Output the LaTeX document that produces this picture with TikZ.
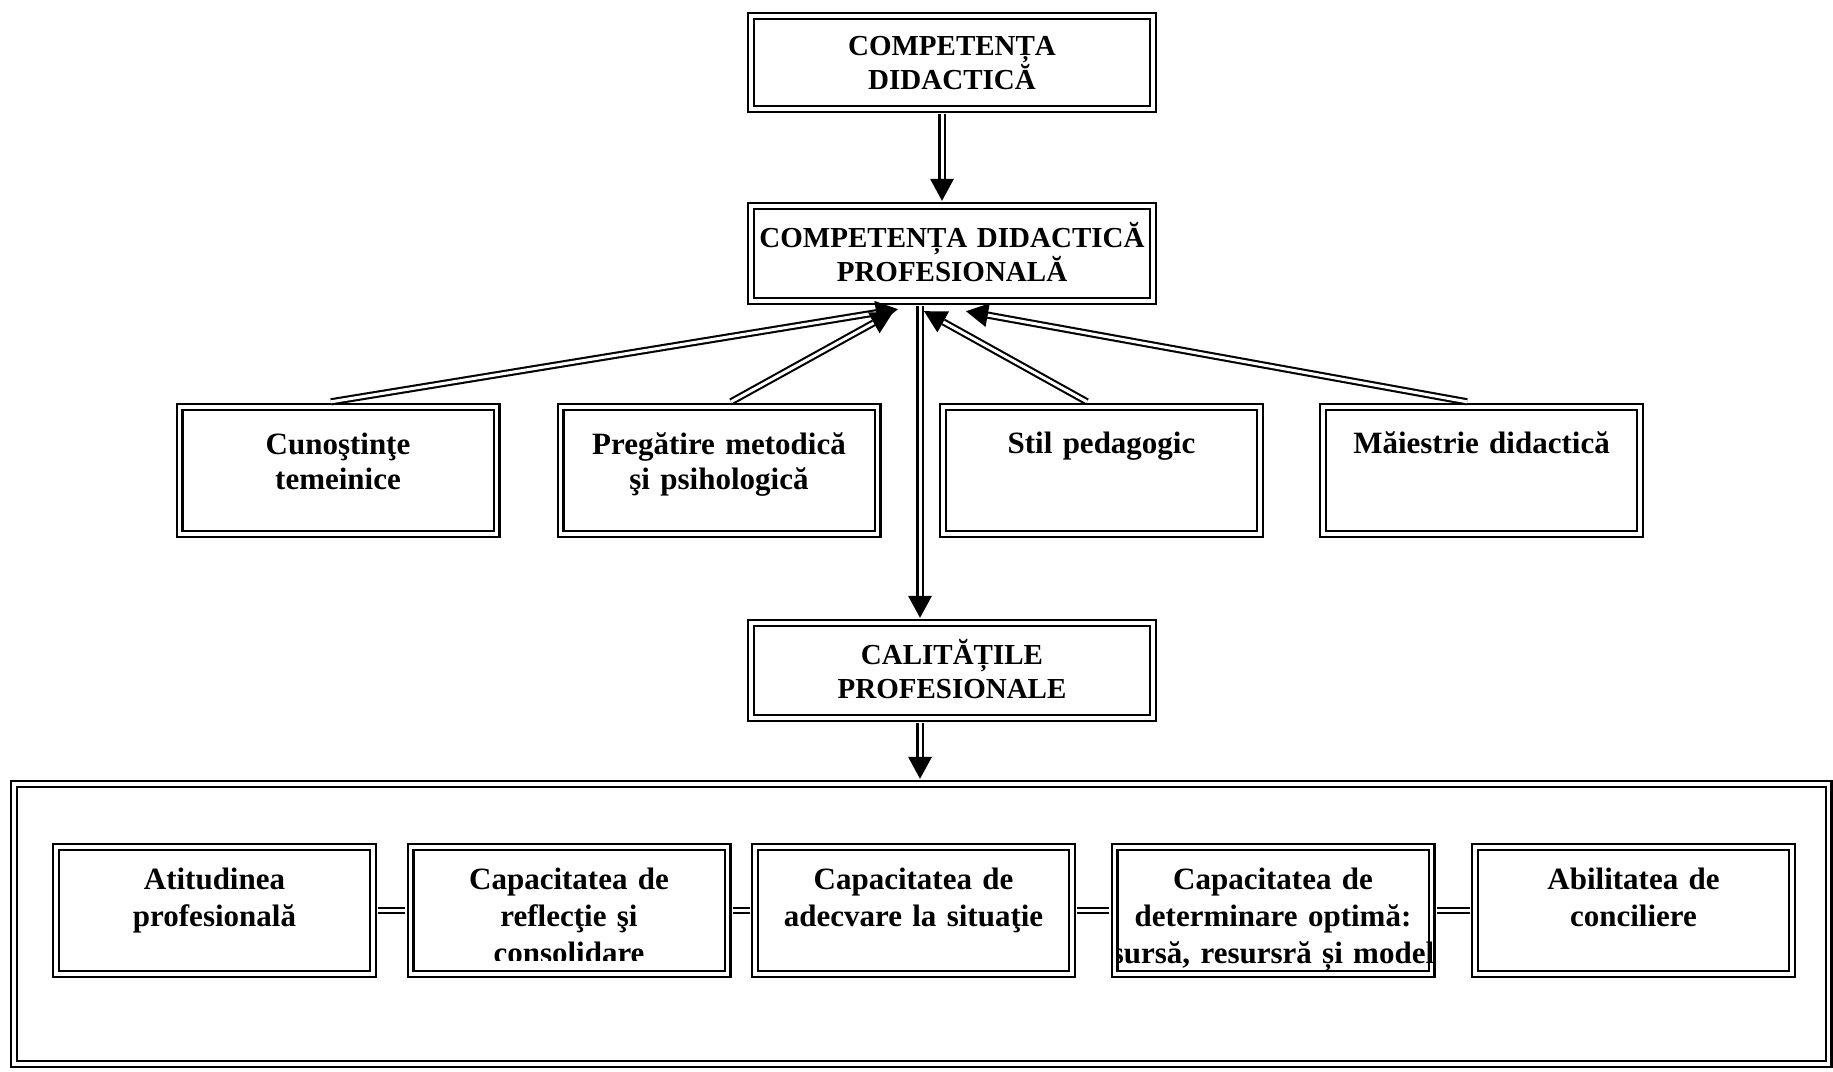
\documentclass[tikz,border=0pt]{standalone}
\usepackage{fontspec}
\setmainfont{Liberation Serif}
\usetikzlibrary{calc}
\tikzset{
  bord/.style={draw=black, double=white, line width=2.4pt, double distance=3.2pt, rectangle, inner sep=0pt},
  hbox/.style={bord, minimum width=402pt},
  rbox/.style={bord, minimum width=317pt, minimum height=127pt},
  dblc/.style={draw=black, double=white, line width=2.1pt, double distance=3pt},
  htxt/.style={font=\bfseries\fontsize{29}{34.5}\selectfont, text width=400pt, align=center, inner sep=0pt, anchor=base},
  rtxt/.style={font=\bfseries\fontsize{31}{35}\selectfont, text width=330pt, align=center, inner sep=0pt, anchor=base},
  btxt/.style={font=\bfseries\fontsize{31}{37}\selectfont, text width=340pt, align=center, inner sep=0pt, anchor=base},
}
\newcommand\dblarrow[2]{%
  \path ($(#2)!22pt!(#1)$) coordinate (ab);
  \draw[dblc] (#1) -- (ab);
  \fill[black] (#2) -- ($(ab)!12pt!90:(#2)$) -- ($(ab)!12pt!-90:(#2)$) -- cycle;
}
\begin{document}
\begin{tikzpicture}[x=1pt, y=-1pt]
\useasboundingbox (0,0) rectangle (1833,1071);
\fill[white] (0,0) rectangle (1833,1071);

% container
\node[bord, minimum width=1814.5pt, minimum height=280pt] (cont) at (921.25,924) {};

% header boxes
\node[hbox, minimum height=93pt] (c1) at (952,62.5) {};
\node[htxt] (c1t) at (952,55) {COMPETENȚA\\DIDACTICĂ};
\node[hbox, minimum height=95pt] (b2) at (952,253.5) {};
\node[htxt] (b2t) at (952,247) {COMPETENȚA DIDACTICĂ\\PROFESIONALĂ};
\node[hbox, minimum height=95pt] (cal) at (952,670.5) {};
\node[htxt] (calt) at (952,664) {CALITĂȚILE\\PROFESIONALE};

% second row
\node[rbox] (r1) at (338,470.5) {};
\node[rtxt] (r1t) at (338,454) {Cunoştinţe\\temeinice};
\node[rbox] (r2) at (719,470.5) {};
\node[rtxt] (r2t) at (719,454) {Pregătire metodică\\şi psihologică};
\node[rbox] (r3) at (1101.5,470.5) {};
\node[rtxt] (r3t) at (1101.5,453) {Stil pedagogic};
\node[rbox] (r4) at (1481.5,470.5) {};
\node[rtxt] (r4t) at (1481.5,453) {Măiestrie didactică};

% bottom row
\node[rbox] (a1) at (214.5,910.5) {};
\node[btxt] (a1t) at (214.5,889) {Atitudinea\\profesională};
\node[rbox] (a2) at (569,910.5) {};
\begin{scope}
  \clip ($(a2.north west)+(4,4)$) rectangle ($(a2.south east)+(-4,-15)$);
  \node[btxt] (a2t) at (569,889) {Capacitatea de\\reflecţie şi\\consolidare};
\end{scope}
\node[rbox] (a3) at (913.5,910.5) {};
\node[btxt] (a3t) at (913.5,889) {Capacitatea de\\adecvare la situaţie};
\node[rbox] (a4) at (1273,910.5) {};
\begin{scope}
  \clip ($(a4.north west)+(4,4)$) rectangle ($(a4.south east)+(0,-4)$);
  \node[btxt] (a4t) at (1273,889) {Capacitatea de\\determinare optimă:\\sursă, resursră și model};
\end{scope}
\node[rbox] (a5) at (1633.5,910.5) {};
\node[btxt] (a5t) at (1633.5,889) {Abilitatea de\\conciliere};

% bottom connectors
\draw[dblc, shorten <=4pt, shorten >=4pt] (a1.east) -- (a2.west);
\draw[dblc, shorten <=4pt, shorten >=4pt] (a2.east) -- (a3.west);
\draw[dblc, shorten <=4pt, shorten >=4pt] (a3.east) -- (a4.west);
\draw[dblc, shorten <=4pt, shorten >=4pt] (a4.east) -- (a5.west);

% vertical arrows
\coordinate (s0) at ($(c1.south)+(-10,4)$);
\coordinate (e0) at ($(b2.north)+(-10,-4)$);
\dblarrow{s0}{e0}
\coordinate (s1) at ($(b2.south)+(-32,4)$);
\coordinate (e1) at ($(cal.north)+(-32,-4)$);
\dblarrow{s1}{e1}
\coordinate (s2) at ($(cal.south)+(-32,4)$);
\coordinate (e2) at ($(cont.north -| s2)+(0,-4)$);
\dblarrow{s2}{e2}

% slanted arrows into b2
\coordinate (s3) at ($(r1.north)+(-7,-4)$);
\coordinate (e3) at ($(b2.south)+(-54,7)$);
\coordinate (s4) at ($(r2.north)+(12,-4)$);
\coordinate (e4) at ($(b2.south)+(-59,10)$);
\coordinate (s5) at ($(r3.north)+(-14.5,-4)$);
\coordinate (e5) at ($(b2.south)+(-28,9)$);
\coordinate (s6) at ($(r4.north)+(-14.5,-4)$);
\coordinate (e6) at ($(b2.south)+(14,9)$);
\dblarrow{s3}{e3}
\dblarrow{s4}{e4}
\dblarrow{s5}{e5}
\dblarrow{s6}{e6}
\end{tikzpicture}
\end{document}
